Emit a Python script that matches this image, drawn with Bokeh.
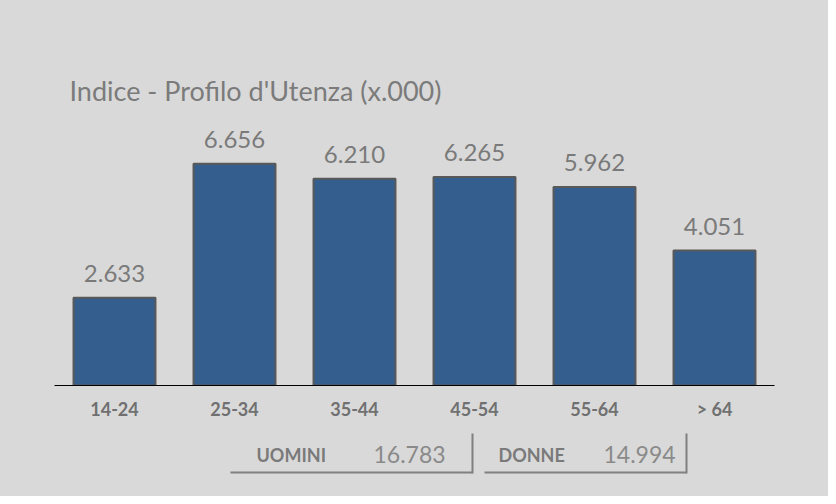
from bokeh.plotting import figure
from bokeh.layouts import column
from bokeh.models import ColumnDataSource, Label, Range1d
from bokeh.embed import file_html
from bokeh.resources import INLINE
from bokeh.core.properties import value

categories = ["14-24", "25-34", "35-44", "45-54", "55-64", "> 64"]
values = [2633, 6656, 6210, 6265, 5962, 4051]
title_text = "Indice - Profilo d'Utenza (x.000)"
total_names = ["UOMINI", "DONNE"]
total_values = [16783, 14994]


def fmt(v):
    return f"{v:,}".replace(",", ".")


FONT = "Lato"
BG = "#d9d9d9"

src = ColumnDataSource(dict(cat=categories, val=values, lbl=[fmt(v) for v in values]))

# ---- main chart ----
p = figure(x_range=categories, y_range=Range1d(0, 10000), width=828, height=430,
           output_backend="svg", toolbar_location=None,
           min_border_left=54, min_border_right=54, min_border_top=52, min_border_bottom=45,
           background_fill_color=BG, border_fill_color=BG, outline_line_color=None)

p.vbar(x="cat", top="val", width=0.683, source=src,
       fill_color="#335e8e", line_color="#595959", line_width=2)

p.text(x="cat", y="val", text="lbl", source=src, text_align="center",
       text_baseline="alphabetic", y_offset=-24, text_font=value(FONT),
       text_font_size="24px", text_color="#7a7a7a")

p.yaxis.visible = False
p.xgrid.grid_line_color = None
p.ygrid.grid_line_color = None
ax = p.xaxis[0]
ax.axis_line_color = "black"
ax.axis_line_width = 1
ax.major_tick_line_color = None
ax.minor_tick_line_color = None
ax.major_tick_out = 0
ax.major_tick_in = 0
ax.major_label_text_font = FONT
ax.major_label_text_font_size = "18px"
ax.major_label_text_font_style = "bold"
ax.major_label_text_color = "#707070"
ax.major_label_standoff = 12

p.add_layout(Label(x=15, y=295, x_units="screen", y_units="screen", text=title_text,
                   text_font=FONT, text_font_size="27px", text_color="#7b7b7b",
                   text_baseline="alphabetic"))

# ---- totals strip below (frame aligned with the chart frame: x in figure px) ----
q = figure(width=828, height=66, x_range=Range1d(54, 774), y_range=Range1d(66, 0),
           output_backend="svg", toolbar_location=None, min_border=0,
           min_border_left=54, min_border_right=54,
           background_fill_color=BG, border_fill_color=BG, outline_line_color=None)
q.axis.visible = False
q.grid.grid_line_color = None

name_x = [256, 498]
val_x = [373, 603]
box_left = [230, 484]
box_right = [472, 686]
tsrc = ColumnDataSource(dict(nx=name_x, vx=val_x, nm=total_names,
                             vl=[fmt(v) for v in total_values],
                             l=box_left, r=box_right, ty=[24, 24]))
q.text(x="nx", y="ty", text="nm", source=tsrc, text_font=value(FONT),
       text_font_size="18px", text_font_style="bold", text_color="#7a7a7a",
       text_baseline="alphabetic")
q.text(x="vx", y="ty", text="vl", source=tsrc, text_font=value(FONT),
       text_font_size="23px", text_color="#8a8a8a", text_baseline="alphabetic")
q.segment(x0="l", y0=42, x1="r", y1=42, source=tsrc, line_color="#808080", line_width=2)
q.segment(x0="r", y0=3, x1="r", y1=43, source=tsrc, line_color="#808080", line_width=2)

layout = column(p, q, spacing=0, styles={"background-color": BG})
open("out.html", "w").write(file_html(layout, INLINE))
